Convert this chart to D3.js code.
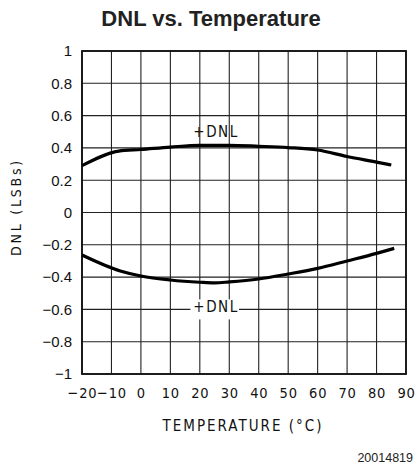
<!DOCTYPE html>
<html lang="en">
  <head>
    <meta charset="utf-8" />
    <title>DNL vs. Temperature</title>
    <style>
      body {
        margin: 0;
        background: #fff;
      }
      svg {
        display: block;
      }
      .grid line {
        stroke: #222;
        stroke-width: 1.1px;
      }
      .frame {
        fill: none;
        stroke: #111;
        stroke-width: 1.8px;
      }
      .curve {
        fill: none;
        stroke: #000;
        stroke-width: 3.2px;
        stroke-linejoin: round;
      }
      .ytick text {
        font-family: "Liberation Sans", Arial, sans-serif;
        font-size: 15px;
        fill: #111;
      }
      .tech {
        font-family: "DejaVu Sans Condensed", "DejaVu Sans", sans-serif;
        fill: #111;
      }
    </style>
  </head>
  <body>
    <svg width="417" height="468"></svg>

    <script src="https://d3js.org/d3.v7.min.js"></script>
    <script>
      // readings
      const tempTicks = [-20, -10, 0, 10, 20, 30, 40, 50, 60, 70, 80, 90];
      const dnlTicks = [1, 0.8, 0.6, 0.4, 0.2, 0, -0.2, -0.4, -0.6, -0.8, -1];

      const upperTemp = [-20, -7.5, 0, 10, 20, 30, 40, 50, 60, 70, 80, 85];
      const upperDnl = [0.29, 0.38, 0.39, 0.405, 0.416, 0.416, 0.41, 0.402, 0.387, 0.347, 0.312, 0.294];

      const lowerTemp = [-20, -7, 0, 10, 20, 25, 30, 40, 50, 60, 70, 80, 86];
      const lowerDnl = [-0.263, -0.362, -0.393, -0.418, -0.432, -0.436, -0.43, -0.412, -0.381, -0.346, -0.3, -0.253, -0.222];

      const margin = { left: 82, right: 11, top: 51, bottom: 94 };
      const width = 417, height = 468;

      const svg = d3.select("svg");

      const x = d3
        .scaleLinear()
        .domain([-20, 90])
        .range([margin.left, width - margin.right]);
      const y = d3
        .scaleLinear()
        .domain([-1, 1])
        .range([height - margin.bottom, margin.top]);

      const fmt = (v) => (v < 0 ? "\u2212" : "") + Math.abs(v);

      // grid
      const grid = svg.append("g").attr("class", "grid");
      grid
        .selectAll("line.v")
        .data(tempTicks)
        .join("line")
        .attr("x1", (d) => x(d))
        .attr("x2", (d) => x(d))
        .attr("y1", y(1))
        .attr("y2", y(-1));
      grid
        .selectAll("line.h")
        .data(dnlTicks)
        .join("line")
        .attr("x1", x(-20))
        .attr("x2", x(90))
        .attr("y1", (d) => y(d))
        .attr("y2", (d) => y(d));

      svg
        .append("rect")
        .attr("class", "frame")
        .attr("x", x(-20))
        .attr("y", y(1))
        .attr("width", x(90) - x(-20))
        .attr("height", y(-1) - y(1));

      // y axis labels
      const yAxis = svg
        .append("g")
        .attr("class", "ytick")
        .attr("transform", `translate(${x(-20) - 10},0)`)
        .call(d3.axisLeft(y).tickValues(dnlTicks).tickSize(0).tickFormat(fmt));
      yAxis.select(".domain").remove();
      yAxis.selectAll("text").attr("x", 0);

      // x axis labels
      const xAxis = svg
        .append("g")
        .attr("transform", `translate(0,${y(-1) + 11})`)
        .call(d3.axisBottom(x).tickValues(tempTicks).tickSize(0).tickFormat(fmt));
      xAxis.select(".domain").remove();
      xAxis
        .selectAll("text")
        .attr("class", "tech")
        .attr("font-size", 14.5)
        .attr("letter-spacing", 0.8)
        .attr("dy", "0.71em");

      // curves
      const line = d3
        .line()
        .x((d) => x(d[0]))
        .y((d) => y(d[1]))
        .curve(d3.curveMonotoneX);

      svg
        .append("path")
        .attr("class", "curve")
        .attr("d", line(d3.zip(upperTemp, upperDnl)));
      svg
        .append("path")
        .attr("class", "curve")
        .attr("d", line(d3.zip(lowerTemp, lowerDnl)));

      // curve labels
      svg
        .append("text")
        .attr("class", "tech")
        .attr("x", x(25.5))
        .attr("y", 137)
        .attr("text-anchor", "middle")
        .attr("font-size", 15)
        .attr("letter-spacing", 1.5)
        .text("+DNL");

      svg
        .append("rect")
        .attr("x", x(16.8))
        .attr("y", y(-0.6) - 10)
        .attr("width", x(33.3) - x(16.8))
        .attr("height", 20)
        .attr("fill", "#fff");
      svg
        .append("text")
        .attr("class", "tech")
        .attr("x", x(25.5))
        .attr("y", y(-0.6) + 2.5)
        .attr("text-anchor", "middle")
        .attr("font-size", 15)
        .attr("letter-spacing", 1.5)
        .text("+DNL");

      // titles
      svg
        .append("text")
        .attr("x", 211)
        .attr("y", 26)
        .attr("text-anchor", "middle")
        .attr("font-family", "Liberation Sans, Arial, sans-serif")
        .attr("font-weight", "bold")
        .attr("font-size", 22)
        .attr("fill", "#222")
        .text("DNL vs. Temperature");

      svg
        .append("text")
        .attr("class", "tech")
        .attr("x", 243)
        .attr("y", 431)
        .attr("text-anchor", "middle")
        .attr("font-size", 15)
        .attr("letter-spacing", 2)
        .text("TEMPERATURE (\u00b0C)");

      svg
        .append("text")
        .attr("class", "tech")
        .attr("transform", "translate(21,207) rotate(-90)")
        .attr("text-anchor", "middle")
        .attr("font-size", 14)
        .attr("letter-spacing", 2.8)
        .text("DNL (LSBs)");

      svg
        .append("text")
        .attr("x", 413)
        .attr("y", 462)
        .attr("text-anchor", "end")
        .attr("font-family", "Liberation Sans, Arial, sans-serif")
        .attr("font-size", 12.5)
        .attr("fill", "#222")
        .text("20014819");
    </script>
  </body>
</html>
